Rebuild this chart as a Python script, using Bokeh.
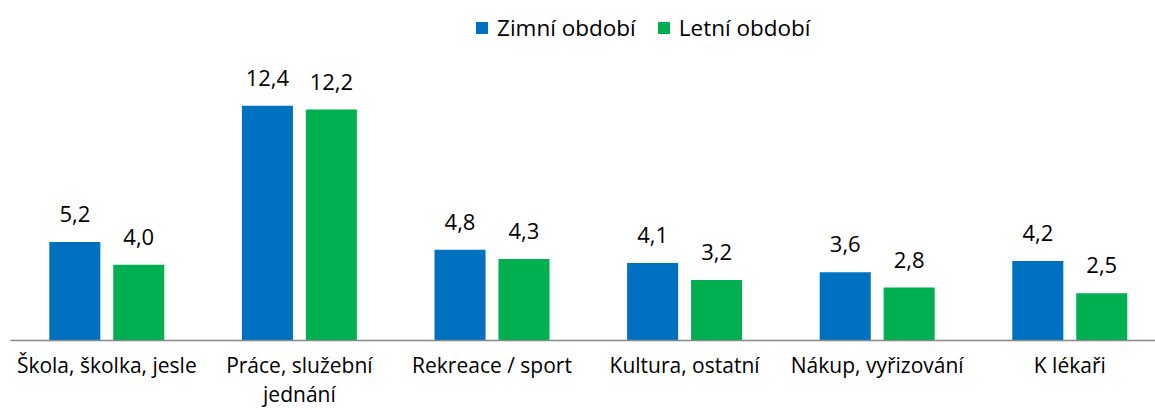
from bokeh.plotting import figure
from bokeh.models import ColumnDataSource, Range1d, Legend, LegendItem, FixedTicker
from bokeh.transform import dodge
from bokeh.core.properties import value
from bokeh.embed import file_html
from bokeh.resources import INLINE

categories = ["Škola, školka, jesle", "Práce, služební\njednání", "Rekreace / sport",
              "Kultura, ostatní", "Nákup, vyřizování", "K lékaři"]
zimni = [5.2, 12.4, 4.8, 4.1, 3.6, 4.2]
letni = [4.0, 12.2, 4.3, 3.2, 2.8, 2.5]
series_names = ["Zimní období", "Letní období"]
colors = ["#0070C0", "#00B050"]

FONT = "Open Sans"
idx = list(range(len(categories)))


def fmt(v):
    return f"{v:.1f}".replace(".", ",")


src = ColumnDataSource(dict(x=idx, z=zimni, l=letni,
                            zt=[fmt(v) for v in zimni], lt=[fmt(v) for v in letni]))

p = figure(width=1155, height=410,
           x_range=Range1d(-0.5, 5.445), y_range=Range1d(0, 17.965),
           output_backend="svg", toolbar_location=None,
           min_border_left=10, min_border_right=0, min_border_top=0, min_border_bottom=0)

off = 0.166
bw = 0.265
rz = p.vbar(x=dodge("x", -off, range=p.x_range), top="z", width=bw, source=src,
            fill_color=colors[0], line_color=None)
rl = p.vbar(x=dodge("x", off, range=p.x_range), top="l", width=bw, source=src,
            fill_color=colors[1], line_color=None)

for col, txt, o in (("z", "zt", -off), ("l", "lt", off)):
    p.text(x=dodge("x", o, range=p.x_range), y=col, text=txt, source=src,
           text_align="center", text_baseline="alphabetic", y_offset=-28,
           text_font=value(FONT), text_font_size="22px", text_color="#000000")

p.yaxis.visible = False
p.grid.visible = False
p.outline_line_color = None
p.background_fill_color = "white"
p.border_fill_color = "white"

ax = p.xaxis[0]
ax.ticker = FixedTicker(ticks=idx)
ax.major_label_overrides = {i: c for i, c in zip(idx, categories)}
ax.axis_line_color = "#898989"
ax.axis_line_width = 1.5
ax.major_tick_line_color = None
ax.minor_tick_line_color = None
ax.major_tick_out = 0
ax.major_tick_in = 0
ax.minor_tick_out = 0
ax.minor_tick_in = 0
ax.major_label_standoff = 10
ax.major_label_text_font = FONT
ax.major_label_text_font_size = "21px"
ax.major_label_text_color = "#000000"
ax.major_label_text_line_height = 1.05

legend = Legend(items=[LegendItem(label=series_names[0], renderers=[rz]),
                       LegendItem(label=series_names[1], renderers=[rl])],
                orientation="horizontal", location=(464, 297),
                glyph_width=15, glyph_height=15, label_standoff=8, spacing=20,
                label_height=22,
                padding=0, margin=0, border_line_color=None, background_fill_alpha=0,
                label_text_font=FONT, label_text_font_size="22.5px", label_text_color="#000000")
p.add_layout(legend)

open("out.html", "w").write(file_html(p, INLINE))
